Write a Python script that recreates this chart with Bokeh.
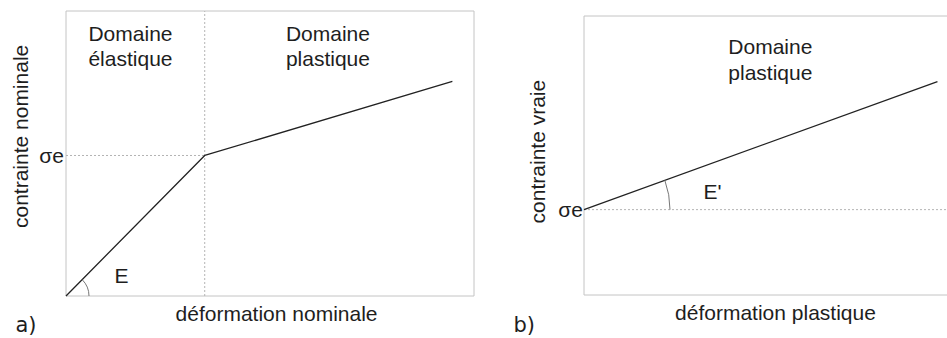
import math

from bokeh.core.properties import value
from bokeh.embed import file_html
from bokeh.layouts import row
from bokeh.models import Range1d
from bokeh.plotting import figure
from bokeh.resources import INLINE

# ---------------- data (normalised units) ----------------
# a) nominal stress vs nominal strain: origin, yield point, end of the plastic branch
strain_a = [0.0, 0.340, 0.947]
stress_a = [0.0, 0.493, 0.753]
sigma_e_a = stress_a[1]

# b) true stress vs plastic strain, starting at the yield stress
strain_b = [0.0, 0.971]
stress_b = [0.306, 0.765]
sigma_e_b = stress_b[0]

sigma_label = "σe"
region_a = ["Domaine", "élastique"]
region_plastic = ["Domaine", "plastique"]
xlabel_a = "déformation nominale"
ylabel_a = "contrainte nominale"
xlabel_b = "déformation plastique"
ylabel_b = "contrainte vraie"
slope_a = "E"
slope_b = "E'"

# extent of each plotting box in data units (box b runs off the right side)
BOX_A = (0.0, 1.0, 0.0, 1.0)
BOX_B = (0.0, 1.05, 0.0, 1.0)

FONT = "Liberation Sans"
TAG_FONT = "DejaVu Sans"
FS = "21px"
TEXT = "#1e1e1e"
CURVE = "#222222"
GUIDE = "#b4b4b4"
FRAME = "#c4c4c4"
ARC = "#777777"


def make_fig(width, height, left_px, x_unit_px, bottom_px, y_unit_px):
    """Figure whose frame fills the canvas; data (0, 0) sits at (left_px, bottom_px)."""
    xr = Range1d(-left_px / x_unit_px, (width - left_px) / x_unit_px)
    yr = Range1d(-(height - bottom_px) / y_unit_px, bottom_px / y_unit_px)
    p = figure(width=width, height=height, output_backend="svg", toolbar_location=None,
               x_range=xr, y_range=yr, x_axis_location=None, y_axis_location=None,
               min_border=0, outline_line_color=None,
               background_fill_color="white", border_fill_color="white")
    p.grid.visible = False
    return p


def put_text(p, xs, ys, texts, align="center", angle=0.0, font=FONT, x_offset=0):
    p.text(x=xs, y=ys, text=texts, angle=angle, x_offset=x_offset,
           text_font=value(font), text_font_size=FS, text_color=TEXT,
           text_align=align, text_baseline="middle")


# ---------------- panel a ----------------
WA, HA = 475, 338
KXA, KYA = 408.0, 285.0            # pixels per data unit
pa = make_fig(WA, HA, 65.5, KXA, 295.5, KYA)

x0, x1, y0, y1 = BOX_A
pa.quad(left=[x0], right=[x1], bottom=[y0], top=[y1],
        fill_color=None, line_color=FRAME, line_width=1)

# guide lines through the yield point
pa.line([strain_a[1], strain_a[1]], [y0, y1], line_color=GUIDE, line_dash="2 2", line_width=1)
pa.line([x0, strain_a[1]], [sigma_e_a, sigma_e_a], line_color=GUIDE, line_dash="2 2", line_width=1)

# elastic + plastic branches
pa.line(strain_a, stress_a, line_color=CURVE, line_width=1.3)

theta_a = math.atan2((stress_a[1] - stress_a[0]) * KYA, (strain_a[1] - strain_a[0]) * KXA)
pa.arc(x=[strain_a[0]], y=[stress_a[0]], radius=23, radius_units="screen",
       start_angle=0, end_angle=theta_a, line_color=ARC, line_width=1)

put_text(pa, [x0], [sigma_e_a], [sigma_label], align="right", x_offset=-2)
put_text(pa, [-0.1115], [0.56], [ylabel_a], angle=math.pi / 2)
put_text(pa, [0.516], [-0.061], [xlabel_a])
put_text(pa, [0.158, 0.158], [0.921, 0.833], region_a)
put_text(pa, [0.642, 0.642], [0.921, 0.833], region_plastic)
put_text(pa, [0.136], [0.072], [slope_a])
put_text(pa, [-0.124], [-0.1025], ["a)"], align="left", font=TAG_FONT)

# ---------------- panel b ----------------
WB, HB = 472, 338
KXB, KYB = 364.0, 279.0
pb = make_fig(WB, HB, 108.5, KXB, 294.5, KYB)

x0, x1, y0, y1 = BOX_B
pb.line([x1, x0, x0, x1], [y1, y1, y0, y0], line_color=FRAME, line_width=1)

pb.line([x0, x1], [sigma_e_b, sigma_e_b], line_color=GUIDE, line_dash="2 2", line_width=1)
pb.line(strain_b, stress_b, line_color=CURVE, line_width=1.3)

theta_b = math.atan2((stress_b[1] - stress_b[0]) * KYB, (strain_b[1] - strain_b[0]) * KXB)
pb.arc(x=[strain_b[0]], y=[sigma_e_b], radius=86, radius_units="screen",
       start_angle=0, end_angle=theta_b, line_color=ARC, line_width=1)

put_text(pb, [x0], [sigma_e_b], [sigma_label], align="right", x_offset=-1)
put_text(pb, [-0.1277], [0.514], [ylabel_b], angle=math.pi / 2)
put_text(pb, [0.526], [-0.0627], [xlabel_b])
put_text(pb, [0.512, 0.512], [0.891, 0.7975], region_plastic)
put_text(pb, [0.353], [0.371], [slope_b])
put_text(pb, [-0.1937], [-0.108], ["b)"], align="left", font=TAG_FONT)

layout = row(pa, pb)
open("out.html", "w").write(file_html(layout, INLINE))
